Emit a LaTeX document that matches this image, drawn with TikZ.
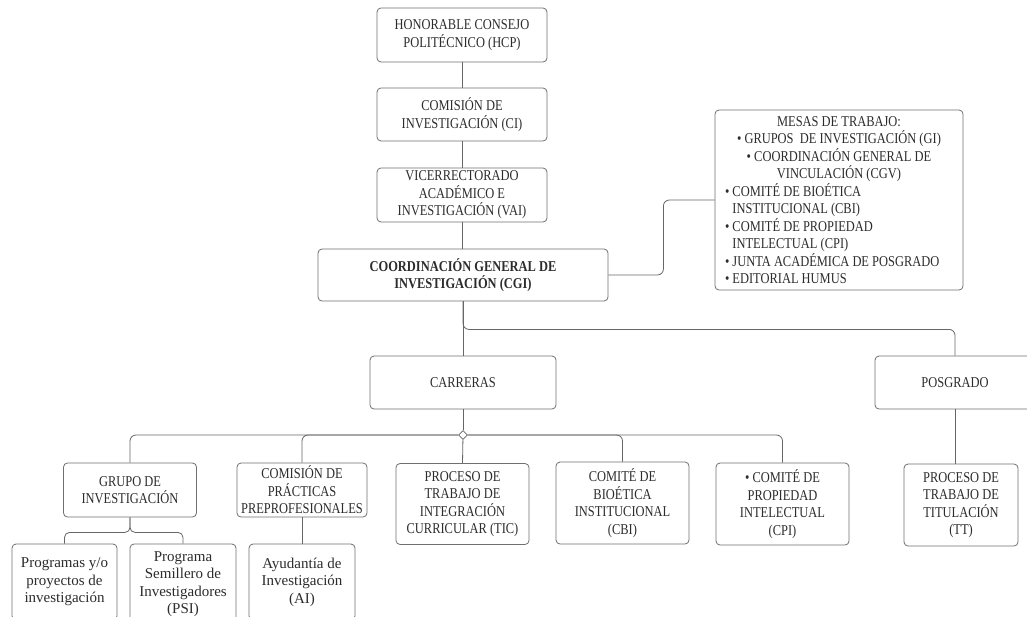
\documentclass[tikz,border=0pt]{standalone}
\usepackage{fontspec}
\setmainfont{Liberation Serif}[FakeStretch=0.83]
\newfontfamily\lowfont{Liberation Serif}
\usetikzlibrary{shapes.geometric}
\definecolor{txtgray}{HTML}{2C2C2C}
\definecolor{boxgray}{HTML}{707070}
\definecolor{linegray}{HTML}{666666}
\tikzset{
  box/.style={draw=boxgray, line width=0.8pt, rounded corners=4pt, align=center, text=txtgray, inner sep=1pt, font=\fontsize{15}{17.5}\selectfont},
  lowbox/.style={box, font=\lowfont\fontsize{15}{17.5}\selectfont},
  link/.style={draw=linegray, line width=0.8pt},
}
\newcommand{\mesaline}[1]{\makebox[228pt][l]{#1}}
\begin{document}
\begin{tikzpicture}[x=1pt,y=-1pt]
    \fill[white] (0,0) rectangle (1027,616);
    \useasboundingbox (0,0) rectangle (1027,616);
    % top chain
    \node[box,minimum width=170,minimum height=54] at (462,35) (hcp) {HONORABLE CONSEJO\\POLITÉCNICO (HCP)};
    \node[box,minimum width=170,minimum height=53] at (462,114.5) (ci) {COMISIÓN DE\\INVESTIGACIÓN (CI)};
    \node[box,minimum width=170,minimum height=54] at (462,195) (vai) {VICERRECTORADO\\ACADÉMICO E\\INVESTIGACIÓN (VAI)};
    \node[box,minimum width=290,minimum height=52,font=\fontsize{15}{17.5}\selectfont\bfseries] at (463,275) (cgi) {COORDINACIÓN GENERAL DE\\INVESTIGACIÓN (CGI)};
    \node[box,minimum width=248,minimum height=180] at (839,200) (mesas) {MESAS DE TRABAJO:\\
        • GRUPOS\ \ DE INVESTIGACIÓN (GI)\\
        • COORDINACIÓN GENERAL DE\\
        VINCULACIÓN (CGV)\\
        \mesaline{• COMITÉ DE BIOÉTICA}\\
        \mesaline{\phantom{• }INSTITUCIONAL (CBI)}\\
        \mesaline{• COMITÉ DE PROPIEDAD}\\
        \mesaline{\phantom{• }INTELECTUAL (CPI)}\\
        \mesaline{• JUNTA ACADÉMICA DE POSGRADO}\\
        \mesaline{• EDITORIAL HUMUS}};
    % second level
    \node[box,minimum width=186,minimum height=53] at (463,382.5) (carreras) {CARRERAS};
    \node[box,minimum width=160,minimum height=53] at (955,382.5) (posgrado) {POSGRADO};
    % third level
    \node[box,minimum width=133,minimum height=54] at (130,490) (gi) {GRUPO DE\\INVESTIGACIÓN};
    \node[box,minimum width=130,minimum height=54] at (302,490) (cpp) {COMISIÓN DE\\PRÁCTICAS\\PREPROFESIONALES};
    \node[box,minimum width=133,minimum height=81] at (462.5,504) (tic) {PROCESO DE\\TRABAJO DE\\INTEGRACIÓN\\CURRICULAR (TIC)};
    \node[box,minimum width=133,minimum height=82] at (622.5,503) (cbi) {COMITÉ DE\\BIOÉTICA\\INSTITUCIONAL\\(CBI)};
    \node[box,minimum width=133,minimum height=82] at (782.5,504) (cpi) {• COMITÉ DE\\PROPIEDAD\\INTELECTUAL\\(CPI)};
    \node[box,minimum width=114,minimum height=82] at (961,505) (tt) {PROCESO DE\\TRABAJO DE\\TITULACIÓN\\(TT)};
    % bottom level
    \node[lowbox,minimum width=105,minimum height=76] at (64.5,582) (prog) {Programas y/o\\proyectos de\\investigación};
    \node[lowbox,minimum width=106,minimum height=80] at (183,584) (psi) {Programa\\Semillero de\\Investigadores\\(PSI)};
    \node[lowbox,minimum width=106,minimum height=76] at (302,582) (ai) {Ayudantía de\\Investigación\\(AI)};
    % connectors
    \draw[link] (hcp) -- (ci);
    \draw[link] (ci) -- (vai);
    \draw[link] (vai.south) -- (vai.south |- cgi.north);
    \draw[link] (cgi.south) -- (carreras.north);
    \draw[link,rounded corners=6pt] (cgi.south) -- ++(0,28) -| (posgrado.north);
    \draw[link,rounded corners=6pt] (cgi.east) -- ++(55,0) |- (mesas.west);
    \node[diamond,draw=linegray,fill=white,line width=0.8pt,inner sep=0pt,minimum size=9pt] at (463,435) (jn) {};
    \draw[link] (carreras.south) -- (jn);
    \draw[link] (jn) -- (tic.north);
    \foreach \c in {gi,cpp,cbi,cpi}{
        \draw[link,rounded corners=6pt] (jn) -| (\c.north);
    }
    \foreach \c in {prog,psi}{
        \draw[link,rounded corners=5pt] (gi.south) -- ++(0,15) -| (\c.north);
    }
    \draw[link] (cpp.south) -- (ai.north);
    \draw[link] (posgrado.south) -- (posgrado.south |- tt.north);
\end{tikzpicture}
\end{document}
